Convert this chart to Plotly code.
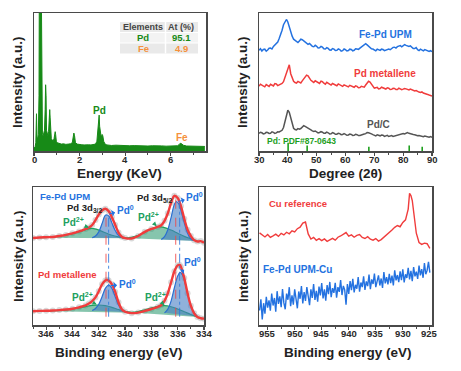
import plotly.graph_objects as go

W, H = 461, 371
FONT = "Liberation Sans, Arial, sans-serif"


def fx(px):
    return px / W


def fy(py):
    return 1 - py / H


# ---------------- data: EDS ----------------
eds_energy = [0.00, 0.05, 0.08, 0.11, 0.13, 0.16, 0.19, 0.22, 0.24, 0.27, 0.30, 0.32, 0.34,
              0.37, 0.40, 0.43, 0.46, 0.49, 0.51, 0.53, 0.55, 0.58, 0.61, 0.64, 0.67, 0.69,
              0.71, 0.73, 0.76, 0.80, 0.84, 0.88, 0.91, 0.93, 0.95, 0.98, 1.02, 1.10, 1.20,
              1.30, 1.40, 1.50, 1.60, 1.68, 1.72, 1.75, 1.78, 1.82, 1.90, 2.00, 2.10, 2.20,
              2.30, 2.40, 2.50, 2.60, 2.70, 2.76, 2.80, 2.83, 2.86, 2.88, 2.91, 2.95, 2.99,
              3.02, 3.06, 3.12, 3.20, 3.40, 3.60, 3.80, 4.00, 4.20, 4.40, 4.60, 4.80, 5.00,
              5.20, 5.40, 5.60, 5.80, 6.00, 6.20, 6.30, 6.38, 6.42, 6.48, 6.55, 6.70, 6.90,
              7.10, 7.30, 7.50]
eds_counts = [2.0, 3.0, 6.0, 27.0, 10.0, 9.0, 12.0, 40.0, 150.0, 200.0, 200.0, 120.0, 20.0,
              12.0, 11.0, 13.0, 15.0, 30.0, 48.0, 40.0, 15.0, 12.0, 11.0, 14.0, 22.0, 30.0,
              24.0, 12.0, 9.0, 8.0, 7.0, 9.0, 12.0, 14.0, 12.0, 7.0, 6.0, 5.5, 5.0,
              5.2, 4.8, 5.0, 5.2, 6.0, 10.0, 13.0, 11.0, 6.0, 5.0, 4.6, 4.5, 4.4,
              4.6, 4.5, 4.4, 4.6, 5.0, 7.0, 15.0, 24.0, 26.0, 18.0, 12.0, 10.0, 12.0,
              11.0, 7.0, 5.0, 4.4, 4.0, 4.2, 3.9, 4.1, 3.8, 3.9, 3.7, 3.8, 3.6,
              3.8, 3.5, 3.7, 3.5, 3.6, 3.5, 3.8, 4.8, 5.6, 5.3, 4.2, 3.6, 3.4,
              3.5, 3.3, 3.3]
eds_ticks = [0, 2, 4, 6]
eds_elements = ["Pd", "Fe"]
eds_atomic_pct = ["95.1", "4.9"]

# ---------------- data: XRD ----------------
xrd_two_theta = [30, 30.5, 31, 31.5, 32, 32.5, 33, 33.5, 34, 34.5,
                 35, 35.5, 36, 36.5, 37, 37.5, 38, 38.5, 39, 39.5,
                 40, 40.5, 41, 41.5, 42, 42.5, 43, 43.5, 44, 44.5,
                 45, 45.5, 46, 46.5, 47, 47.5, 48, 48.5, 49, 49.5,
                 50, 50.5, 51, 51.5, 52, 52.5, 53, 53.5, 54, 54.5,
                 55, 55.5, 56, 56.5, 57, 57.5, 58, 58.5, 59, 59.5,
                 60, 60.5, 61, 61.5, 62, 62.5, 63, 63.5, 64, 64.5,
                 65, 65.5, 66, 66.5, 67, 67.5, 68, 68.5, 69, 69.5,
                 70, 70.5, 71, 71.5, 72, 72.5, 73, 73.5, 74, 74.5,
                 75, 75.5, 76, 76.5, 77, 77.5, 78, 78.5, 79, 79.5,
                 80, 80.5, 81, 81.5, 82, 82.5, 83, 83.5, 84, 84.5,
                 85, 85.5, 86, 86.5, 87, 87.5, 88, 88.5, 89, 89.5,
                 90]
xrd_fepd_upm = [73.0, 74.1, 72.5, 73.6, 73.8, 72.4, 73.2, 74.5, 74.6, 73.9,
                75.8, 76.9, 77.9, 79.0, 81.5, 84.0, 87.5, 91.5, 94.0, 95.3,
                93.5, 89.8, 86.5, 83.2, 81.0, 80.4, 79.2, 78.6, 79.8, 81.0,
                80.6, 79.7, 79.4, 78.6, 77.3, 77.9, 76.8, 75.8, 75.6, 76.6,
                75.9, 74.7, 74.8, 75.8, 75.2, 74.1, 73.9, 74.9, 74.3, 73.2,
                73.1, 74.2, 73.8, 72.8, 72.9, 74.0, 73.5, 72.3, 72.7, 73.9,
                73.4, 72.5, 72.8, 73.8, 73.6, 72.6, 73.0, 74.1, 73.9, 73.6,
                74.5, 75.4, 76.2, 77.3, 77.8, 76.9, 76.0, 74.8, 74.1, 73.9,
                73.2, 72.6, 73.8, 73.2, 72.9, 73.8, 73.6, 72.7, 73.1, 74.0,
                73.9, 73.4, 74.4, 75.1, 75.2, 74.6, 75.6, 76.3, 76.4, 75.5,
                76.0, 77.1, 76.5, 75.9, 75.7, 76.2, 74.8, 74.3, 74.2, 74.9,
                73.4, 72.8, 73.8, 73.0, 72.6, 73.5, 73.1, 72.4, 72.2, 72.8,
                72.0]
xrd_pd_metallene = [47.0, 48.4, 47.8, 46.9, 46.5, 48.1, 47.6, 46.8, 48.3, 47.5,
                    47.1, 48.9, 48.6, 47.4, 47.9, 48.8, 49.0, 50.2, 53.5, 55.8,
                    59.0, 62.5, 56.0, 53.0, 50.5, 49.6, 49.2, 50.4, 50.1, 49.3,
                    50.8, 52.0, 53.5, 55.0, 54.5, 52.6, 51.2, 50.5, 49.6, 50.9,
                    50.3, 49.4, 49.0, 50.6, 50.2, 49.1, 48.4, 49.8, 49.1, 48.0,
                    47.8, 48.9, 48.5, 47.6, 47.3, 48.6, 47.9, 47.2, 46.8, 47.9,
                    47.4, 46.6, 46.5, 47.6, 47.1, 46.4, 46.2, 47.2, 46.8, 45.8,
                    46.0, 46.9, 46.6, 46.3, 47.8, 48.9, 50.5, 50.0, 48.2, 46.5,
                    45.6, 45.9, 46.1, 45.0, 45.3, 46.2, 45.8, 45.1, 44.9, 45.8,
                    45.5, 44.6, 44.7, 45.4, 45.3, 44.5, 44.6, 45.5, 45.2, 44.4,
                    44.8, 45.3, 45.0, 44.5, 44.2, 44.9, 44.6, 43.9, 43.5, 43.8,
                    43.1, 42.7, 42.4, 42.8, 42.0, 41.5, 41.2, 41.0, 40.6, 40.5,
                    39.9]
xrd_pd_c = [12.8, 13.6, 13.2, 12.4, 12.6, 13.5, 13.4, 12.7, 12.9, 13.9,
            13.5, 12.8, 13.1, 13.9, 13.8, 14.2, 15.0, 17.0, 21.0, 26.5,
            29.5, 28.0, 23.5, 19.0, 16.5, 15.6, 15.3, 16.2, 15.8, 16.3,
            17.2, 18.3, 17.8, 17.2, 17.0, 16.5, 15.3, 14.6, 14.2, 14.5,
            13.8, 13.1, 13.4, 14.0, 13.7, 12.8, 12.9, 13.7, 13.2, 12.4,
            12.5, 13.3, 12.9, 12.1, 12.2, 12.9, 12.6, 11.8, 11.9, 12.6,
            12.1, 11.4, 11.6, 12.3, 12.0, 11.3, 11.4, 12.1, 11.8, 11.2,
            11.3, 11.8, 11.9, 12.3, 12.6, 13.4, 13.2, 12.5, 12.4, 11.9,
            11.3, 11.0, 11.7, 11.5, 11.0, 11.6, 11.4, 10.6, 10.8, 11.3,
            10.5, 10.9, 11.2, 10.6, 10.9, 11.5, 11.6, 11.9, 12.2, 12.8,
            12.6, 12.3, 13.0, 13.3, 12.8, 12.4, 12.4, 12.0, 11.8, 11.4,
            11.0, 11.2, 10.8, 10.5, 10.3, 10.8, 10.6, 10.1, 10.0, 10.4,
            9.9]
xrd_ticks = [30, 40, 50, 60, 70, 80, 90]
pdf_positions = [40.1, 46.7, 68.1, 82.1, 86.6]
pdf_heights = [6.0, 4.0, 3.0, 4.0, 3.0]

# ---------------- data: XPS Pd 3d ----------------
upm_energy = [347.0, 346.5, 346.0, 345.5, 345.0, 344.5, 344.0, 343.5, 343.0, 342.75, 342.5,
              342.25, 342.0, 341.75, 341.5, 341.25, 341.0, 340.75, 340.5, 340.25, 340.0,
              339.5, 339.0, 338.5, 338.0, 337.5, 337.25, 337.0, 336.75, 336.5, 336.25, 336.0,
              335.75, 335.5, 335.25, 335.0, 334.75, 334.5, 334.25, 334.0]
upm_envelope = [63.0, 63.4, 63.6, 63.8, 64.5, 65.3, 66.4, 67.8, 69.6, 70.6, 72.5,
                76.0, 80.0, 83.0, 84.2, 82.5, 78.0, 72.5, 67.0, 64.0, 63.0,
                62.7, 64.5, 67.5, 69.6, 71.2, 72.3, 75.5, 81.0, 88.5, 93.6, 92.0,
                86.0, 77.0, 69.0, 64.5, 61.5, 60.5, 60.8, 59.6]
upm_pd2_a_energy = [346.5, 345.5, 344.5, 343.5, 343.0, 342.6, 342.2, 341.8, 341.4, 341.0, 340.5,
                    340.0, 339.5]
upm_pd2_a = [63.3, 63.9, 65.2, 67.5, 69.0, 70.0, 69.5, 68.0, 66.5, 65.0, 63.8, 63.0, 62.8]
upm_pd0_a_energy = [342.5, 342.25, 342.0, 341.75, 341.5, 341.35, 341.2, 341.0, 340.75, 340.5,
                    340.25, 340.0]
upm_pd0_a = [63.2, 64.5, 67.5, 73.5, 79.5, 79.7, 78.5, 74.0, 68.5, 65.0, 63.5, 63.0]
upm_pd2_b_energy = [340.0, 339.5, 339.0, 338.5, 338.0, 337.5, 337.0, 336.5, 336.0, 335.5, 335.0,
                    334.5]
upm_pd2_b = [63.0, 63.6, 65.0, 67.3, 69.6, 71.2, 70.6, 68.8, 66.5, 64.2, 62.5, 60.8]
upm_pd0_b_energy = [337.25, 337.0, 336.75, 336.5, 336.25, 336.1, 335.9, 335.75, 335.5, 335.25,
                    335.0, 334.75]
upm_pd0_b = [62.0, 64.0, 69.0, 78.0, 87.5, 89.4, 87.5, 83.0, 74.0, 66.5, 62.5, 61.0]

met_energy = [347.0, 346.5, 346.0, 345.5, 345.0, 344.5, 344.0, 343.5, 343.0, 342.75, 342.5,
              342.25, 342.0, 341.75, 341.5, 341.35, 341.25, 341.0, 340.75, 340.5, 340.25,
              340.0, 339.5, 339.0, 338.5, 338.0, 337.5, 337.25, 337.0, 336.75, 336.5, 336.25,
              336.0, 335.85, 335.75, 335.5, 335.25, 335.0, 334.75, 334.5, 334.25, 334.0]
met_envelope = [10.0, 10.2, 10.3, 10.5, 10.8, 11.2, 11.8, 12.8, 14.2, 15.5, 17.3,
                20.0, 24.5, 29.5, 32.3, 32.7, 32.2, 29.5, 24.0, 16.5, 11.5,
                9.6, 8.6, 9.0, 10.2, 11.6, 13.2, 14.5, 17.5, 23.0, 31.0, 39.0,
                43.2, 43.5, 42.0, 34.0, 23.0, 14.0, 8.5, 5.8, 4.9, 4.6]
met_pd2_a_energy = [346.5, 345.5, 344.5, 343.5, 343.0, 342.5, 342.0, 341.5, 341.0, 340.5, 340.0,
                    339.5]
met_pd2_a = [10.1, 10.4, 11.0, 12.3, 13.3, 14.2, 14.5, 14.0, 12.8, 11.2, 9.9, 8.8]
met_pd0_a_energy = [342.5, 342.25, 342.0, 341.75, 341.5, 341.25, 341.0, 340.75, 340.5, 340.25,
                    340.0]
met_pd0_a = [10.5, 12.0, 15.0, 20.5, 26.5, 29.0, 26.5, 20.5, 14.5, 11.0, 9.5]
met_pd2_b_energy = [340.0, 339.5, 339.0, 338.5, 338.0, 337.5, 337.0, 336.5, 336.0, 335.5, 335.0,
                    334.5]
met_pd2_b = [9.5, 9.2, 9.8, 11.0, 12.4, 13.6, 14.0, 13.2, 11.6, 9.6, 7.6, 5.8]
met_pd0_b_energy = [337.0, 336.75, 336.5, 336.25, 336.0, 335.82, 335.6, 335.4, 335.2, 335.0,
                    334.75, 334.5]
met_pd0_b = [8.8, 11.5, 17.5, 27.0, 35.5, 38.2, 35.5, 29.0, 21.0, 14.0, 9.0, 6.2]

upm_pd0_positions = [341.45, 336.15]
met_pd0_positions = [341.25, 335.85]
pd_ticks = [346, 344, 342, 340, 338, 336, 334]

# ---------------- data: XPS Cu 2p ----------------
cu_ref_energy = [956.5, 956.0, 955.5, 955.0, 954.5, 954.0, 953.5, 953.0,
                 952.5, 952.0, 951.5, 951.0, 950.5, 950.0, 949.5, 949.0,
                 948.5, 948.0, 947.5, 947.0, 946.5, 946.0, 945.5, 945.0,
                 944.5, 944.0, 943.5, 943.0, 942.5, 942.0, 941.5, 941.0,
                 940.5, 940.0, 939.5, 939.0, 938.5, 938.0, 937.5, 937.0,
                 936.5, 936.0, 935.5, 935.0, 934.5, 934.0, 933.5, 933.0,
                 932.5, 932.0, 931.5, 931.0, 930.5, 930.0, 929.5, 929.0,
                 928.75, 928.5, 928.25, 928.0, 927.5, 927.0, 926.5, 926.0,
                 925.5, 925.0]
cu_ref_values = [66.8, 65.2, 63.8, 65.6, 63.5, 64.6, 65.8, 64.2,
                 66.4, 65.3, 67.2, 66.1, 68.3, 67.4, 69.8, 70.9,
                 73.8, 74.6, 66.0, 62.3, 63.5, 61.4, 62.6, 61.1,
                 62.4, 60.6, 61.9, 62.8, 61.5, 63.6, 64.5, 65.9,
                 67.0, 64.4, 65.3, 63.6, 64.9, 65.5, 63.4, 62.7,
                 64.0, 62.2, 61.5, 62.6, 60.8, 61.9, 63.5, 65.6,
                 67.4, 68.9, 70.8, 72.1, 71.2, 74.3, 76.2, 84.0,
                 95.4, 93.8, 90.2, 81.0, 66.5, 59.8, 58.4, 59.3,
                 58.9, 55.6]
cu_upm_energy = [956.5, 956.25, 956.0, 955.75, 955.5, 955.25, 955.0, 954.75,
                 954.5, 954.25, 954.0, 953.75, 953.5, 953.25, 953.0, 952.75,
                 952.5, 952.25, 952.0, 951.75, 951.5, 951.25, 951.0, 950.75,
                 950.5, 950.25, 950.0, 949.75, 949.5, 949.25, 949.0, 948.75,
                 948.5, 948.25, 948.0, 947.75, 947.5, 947.25, 947.0, 946.75,
                 946.5, 946.25, 946.0, 945.75, 945.5, 945.25, 945.0, 944.75,
                 944.5, 944.25, 944.0, 943.75, 943.5, 943.25, 943.0, 942.75,
                 942.5, 942.25, 942.0, 941.75, 941.5, 941.25, 941.0, 940.75,
                 940.5, 940.25, 940.0, 939.75, 939.5, 939.25, 939.0, 938.75,
                 938.5, 938.25, 938.0, 937.75, 937.5, 937.25, 937.0, 936.75,
                 936.5, 936.25, 936.0, 935.75, 935.5, 935.25, 935.0, 934.75,
                 934.5, 934.25, 934.0, 933.75, 933.5, 933.25, 933.0, 932.75,
                 932.5, 932.25, 932.0, 931.75, 931.5, 931.25, 931.0, 930.75,
                 930.5, 930.25, 930.0, 929.75, 929.5, 929.25, 929.0, 928.75,
                 928.5, 928.25, 928.0, 927.75, 927.5, 927.25, 927.0, 926.75,
                 926.5, 926.25, 926.0, 925.75, 925.5, 925.25, 925.0]
cu_upm_values = [10.5, 18.6, 4.0, 15.8, 8.2, 20.4, 12.6, 17.9,
                 10.4, 22.8, 14.1, 19.6, 9.7, 24.5, 15.3, 20.8,
                 12.9, 26.1, 16.0, 11.4, 22.7, 18.3, 27.4, 13.6,
                 21.5, 14.8, 25.9, 17.2, 12.1, 24.3, 19.0, 28.2,
                 15.6, 23.9, 17.4, 27.5, 21.2, 14.3, 25.8, 19.7,
                 29.6, 18.2, 24.7, 16.9, 27.8, 21.5, 30.4, 19.3,
                 25.8, 17.6, 28.9, 22.4, 31.2, 20.1, 26.7, 23.3,
                 30.5, 19.8, 27.4, 24.0, 32.6, 21.7, 28.3, 25.5,
                 14.8, 29.6, 22.5, 31.9, 25.2, 33.4, 23.6, 29.1,
                 26.3, 34.7, 24.1, 30.8, 27.5, 35.2, 25.4, 31.6,
                 28.2, 36.5, 26.0, 33.1, 29.7, 37.3, 27.4, 32.8,
                 35.9, 28.6, 33.7, 26.8, 38.4, 30.2, 34.6, 29.5,
                 37.1, 30.4, 35.8, 28.7, 39.6, 32.3, 36.2, 31.0,
                 38.8, 32.5, 40.3, 30.9, 36.7, 34.1, 41.5, 33.0,
                 39.2, 31.8, 42.0, 35.3, 38.6, 33.4, 43.1, 36.0,
                 40.5, 34.2, 44.9, 36.8, 39.7, 45.8, 37.9]
cu_ticks = [955, 950, 945, 940, 935, 930, 925]

# ---------------- colours ----------------
GREEN_EDS = "#178a17"
ORANGE = "#f5913c"
BLUE = "#2472e0"
RED = "#f03c3c"
GRAY = "#555555"
PDF_GREEN = "#1ea01e"
CMP_BLUE_LINE = "#2a6fd0"
CMP_BLUE_FILL = "rgba(70,125,195,0.6)"
CMP_GREEN_LINE = "#20a060"
CMP_GREEN_FILL = "rgba(35,150,105,0.55)"

fig = go.Figure()

# ---- panel 1: EDS ----
fig.add_trace(go.Scatter(x=eds_energy, y=eds_counts, mode="lines", fill="tozeroy",
                         line=dict(color=GREEN_EDS, width=1), fillcolor=GREEN_EDS,
                         xaxis="x", yaxis="y", showlegend=False))

# ---- panel 2: XRD ----
for ys, col in [(xrd_fepd_upm, BLUE), (xrd_pd_metallene, RED), (xrd_pd_c, GRAY)]:
    fig.add_trace(go.Scatter(x=xrd_two_theta, y=ys, mode="lines",
                             line=dict(color=col, width=1.5),
                             xaxis="x2", yaxis="y2", showlegend=False))
stick_x, stick_y = [], []
for p, h in zip(pdf_positions, pdf_heights):
    stick_x += [p, p, None]
    stick_y += [0, h, None]
fig.add_trace(go.Scatter(x=stick_x, y=stick_y, mode="lines",
                         line=dict(color=PDF_GREEN, width=1.6),
                         xaxis="x2", yaxis="y2", showlegend=False))

# ---- panel 3: XPS Pd 3d ----
for e, v in [(upm_energy, upm_envelope), (met_energy, met_envelope)]:
    fig.add_trace(go.Scatter(x=e, y=v, mode="markers",
                             marker=dict(size=6, color="rgba(185,185,185,0.55)"),
                             xaxis="x3", yaxis="y3", showlegend=False))
comps = [
    (upm_pd2_a_energy, upm_pd2_a, CMP_GREEN_LINE, CMP_GREEN_FILL),
    (upm_pd2_b_energy, upm_pd2_b, CMP_GREEN_LINE, CMP_GREEN_FILL),
    (upm_pd0_a_energy, upm_pd0_a, CMP_BLUE_LINE, CMP_BLUE_FILL),
    (upm_pd0_b_energy, upm_pd0_b, CMP_BLUE_LINE, CMP_BLUE_FILL),
    (met_pd2_a_energy, met_pd2_a, CMP_GREEN_LINE, CMP_GREEN_FILL),
    (met_pd2_b_energy, met_pd2_b, CMP_GREEN_LINE, CMP_GREEN_FILL),
    (met_pd0_a_energy, met_pd0_a, CMP_BLUE_LINE, CMP_BLUE_FILL),
    (met_pd0_b_energy, met_pd0_b, CMP_BLUE_LINE, CMP_BLUE_FILL),
]
for e, v, lc, fc in comps:
    fig.add_trace(go.Scatter(x=e, y=v, mode="lines", fill="toself", fillcolor=fc,
                             line=dict(color=lc, width=1.2, shape="spline"),
                             xaxis="x3", yaxis="y3", showlegend=False))
for e, v in [(upm_energy, upm_envelope), (met_energy, met_envelope)]:
    fig.add_trace(go.Scatter(x=e, y=v, mode="lines",
                             line=dict(color=RED, width=2.4, shape="spline"),
                             xaxis="x3", yaxis="y3", showlegend=False))

# ---- panel 4: XPS Cu 2p ----
fig.add_trace(go.Scatter(x=cu_ref_energy, y=cu_ref_values, mode="lines",
                         line=dict(color=RED, width=1.4),
                         xaxis="x4", yaxis="y4", showlegend=False))
fig.add_trace(go.Scatter(x=cu_upm_energy, y=cu_upm_values, mode="lines",
                         line=dict(color=BLUE, width=1.4),
                         xaxis="x4", yaxis="y4", showlegend=False))

# ---------------- layout ----------------
P1 = dict(x0=34, x1=206, y0=13, y1=151)
P2 = dict(x0=259, x1=432, y0=13, y1=151)
P3 = dict(x0=33, x1=204, y0=187, y1=325)
P4 = dict(x0=259, x1=432, y0=187, y1=325)


def xax(p, rng, tickvals, minor_dtick, anchor):
    return dict(domain=[fx(p["x0"]), fx(p["x1"])], range=rng, anchor=anchor,
                showline=True, mirror=True, linecolor="#4a4a4a", linewidth=1.5,
                ticks="outside", ticklen=3.5, tickwidth=1.2, tickcolor="#4a4a4a",
                tickvals=tickvals, showticklabels=False, showgrid=False, zeroline=False,
                minor=dict(ticks="outside", ticklen=2, tickwidth=1, tickcolor="#4a4a4a",
                           dtick=minor_dtick, showgrid=False))


def yax(p, anchor):
    return dict(domain=[fy(p["y1"]), fy(p["y0"])], range=[0, 100], anchor=anchor,
                showline=True, mirror=True, linecolor="#4a4a4a", linewidth=1.5,
                ticks="", showticklabels=False, showgrid=False, zeroline=False)


layout = dict(
    width=W, height=H, autosize=False,
    margin=dict(l=0, r=0, t=0, b=0),
    paper_bgcolor="white", plot_bgcolor="white",
    font=dict(family=FONT),
    xaxis=xax(P1, [0, 7.55], eds_ticks, 1, "y"),
    yaxis=yax(P1, "x"),
    xaxis2=xax(P2, [30, 90], xrd_ticks, 5, "y2"),
    yaxis2=yax(P2, "x2"),
    xaxis3=xax(P3, [347, 334], pd_ticks, 1, "y3"),
    yaxis3=yax(P3, "x3"),
    xaxis4=xax(P4, [956.6, 924.6], cu_ticks, 2.5, "y4"),
    yaxis4=yax(P4, "x4"),
)
fig.update_layout(**layout)

ann = []


def A(text, x, y, size=10, color="#222", xref="paper", yref="paper", **kw):
    d = dict(text=text, x=x, y=y, xref=xref, yref=yref, showarrow=False,
             font=dict(family=FONT, size=size, color=color), xanchor="center",
             yanchor="middle")
    d.update(kw)
    ann.append(d)


# tick labels
for ticks, xr, ypx in [(eds_ticks, "x", 159), (xrd_ticks, "x2", 159),
                       (pd_ticks, "x3", 333), (cu_ticks, "x4", 333)]:
    for t in ticks:
        A(f"<b>{t}</b>", t, fy(ypx), 9.5, "#2a2a2a", xr, "paper")

# axis titles
TS = 13.5
A("<b>Energy (KeV)</b>", fx(120), fy(173), TS)
A("<b>Degree (2θ)</b>", fx(345), fy(173), TS)
A("<b>Binding energy (eV)</b>", fx(119), fy(352), TS)
A("<b>Binding energy (eV)</b>", fx(348), fy(352), TS)
for xpx, ypx in [(18, 82), (243, 82), (18, 256), (243, 256)]:
    A("<b>Intensity (a.u.)</b>", fx(xpx), fy(ypx), TS, textangle=-90)

# panel 1 labels + table
A("<b>Pd</b>", 2.88, 29.5, 10, GREEN_EDS, "x", "y")
A("<b>Fe</b>", 6.48, 9.6, 10, ORANGE, "x", "y")
shapes = []
row_fills = ["#e9e9e9", "#f3f3f3", "#e9e9e9"]
row_edges = [22, 32.5, 43, 53.5]
for i, fc in enumerate(row_fills):
    shapes.append(dict(type="rect", xref="paper", yref="paper",
                       x0=fx(120), x1=fx(198), y0=fy(row_edges[i + 1]), y1=fy(row_edges[i]),
                       fillcolor=fc, line=dict(width=0), layer="above"))
shapes.append(dict(type="line", xref="paper", yref="paper", x0=fx(165.5), x1=fx(165.5),
                   y0=fy(53.5), y1=fy(22), line=dict(color="white", width=1.5)))
for yy in row_edges[1:3]:
    shapes.append(dict(type="line", xref="paper", yref="paper", x0=fx(120), x1=fx(198),
                       y0=fy(yy), y1=fy(yy), line=dict(color="white", width=1)))
A("<b>Elements</b>", fx(143), fy(27.3), 9, "#444")
A("<b>At (%)</b>", fx(181), fy(27.3), 9, "#444")
for i, (el, pc) in enumerate(zip(eds_elements, eds_atomic_pct)):
    col = GREEN_EDS if el == "Pd" else ORANGE
    ycen = 37.8 + 10.5 * i
    A(f"<b>{el}</b>", fx(143), fy(ycen), 9.5, col)
    A(f"<b>{pc}</b>", fx(181), fy(ycen), 9.5, col)

# panel 2 labels
A("<b>Fe-Pd UPM</b>", 73.7, 84.5, 10, BLUE, "x2", "y2")
A("<b>Pd metallene</b>", 73.7, 56.5, 10, RED, "x2", "y2")
A("<b>Pd/C</b>", 71.3, 19.0, 10, GRAY, "x2", "y2")
A("<b>Pd: PDF#87-0643</b>", 44.9, 7.5, 8.5, PDF_GREEN, "x2", "y2")

# panel 3 labels
A("<b>Fe-Pd UPM</b>", 344.6, 93.0, 9.5, BLUE, "x3", "y3")
A("<b>Pd 3d<sub>3/2</sub></b>", 343.1, 84.5, 9.5, "#222", "x3", "y3")
A("<b>Pd 3d<sub>5/2</sub></b>", 337.8, 92.0, 9.5, "#222", "x3", "y3")
A("<b>Pd metallene</b>", 344.35, 36.5, 9.5, RED, "x3", "y3")
pd0_labels = [((340.0, 83.5), (341.2, 80.5)), ((334.7, 92.5), (335.95, 89.5)),
              ((339.85, 29.5), (341.1, 28.5)), ((334.85, 45.5), (335.7, 38.5))]
for (tx, ty), (hx, hy) in pd0_labels:
    ann.append(dict(text="<b>Pd<sup>0</sup></b>", x=hx, y=hy, ax=tx, ay=ty,
                    xref="x3", yref="y3", axref="x3", ayref="y3", showarrow=True,
                    arrowhead=2, arrowsize=0.8, arrowwidth=1.1, arrowcolor=BLUE,
                    arrowside="start", standoff=0, startstandoff=0,
                    font=dict(family=FONT, size=10, color=BLUE)))
pd2_labels = [((343.95, 75.0), (342.75, 70.6)), ((338.25, 78.0), (337.6, 71.6)),
              ((343.25, 20.0), (342.15, 14.8)), ((337.7, 20.5), (337.0, 14.4))]
for (tx, ty), (hx, hy) in pd2_labels:
    ann.append(dict(text="<b>Pd<sup>2+</sup></b>", x=hx, y=hy, ax=tx, ay=ty,
                    xref="x3", yref="y3", axref="x3", ayref="y3", showarrow=True,
                    arrowhead=2, arrowsize=0.8, arrowwidth=1.1, arrowcolor=CMP_GREEN_LINE,
                    font=dict(family=FONT, size=10, color=CMP_GREEN_LINE)))
for i, e in enumerate(upm_pd0_positions):
    shapes.append(dict(type="line", xref="x3", yref="y3", x0=e, x1=e,
                       y0=6, y1=[83, 92][i], line=dict(color="rgba(240,70,70,0.85)",
                                                        width=1, dash="dash")))
for i, e in enumerate(met_pd0_positions):
    shapes.append(dict(type="line", xref="x3", yref="y3", x0=e, x1=e,
                       y0=6, y1=[80, 89][i], line=dict(color="rgba(45,120,220,0.85)",
                                                        width=1, dash="dashdot")))

# panel 4 labels
A("<b>Cu reference</b>", 949.4, 87.7, 9.5, RED, "x4", "y4")
A("<b>Fe-Pd UPM-Cu</b>", 949.4, 40.0, 10, BLUE, "x4", "y4")

fig.update_layout(annotations=ann, shapes=shapes)
fig.write_html(
    "out.html",
    config={"displayModeBar": False, "staticPlot": True},
    post_script="document.body.style.margin='0';document.body.style.overflow='hidden';",
)
